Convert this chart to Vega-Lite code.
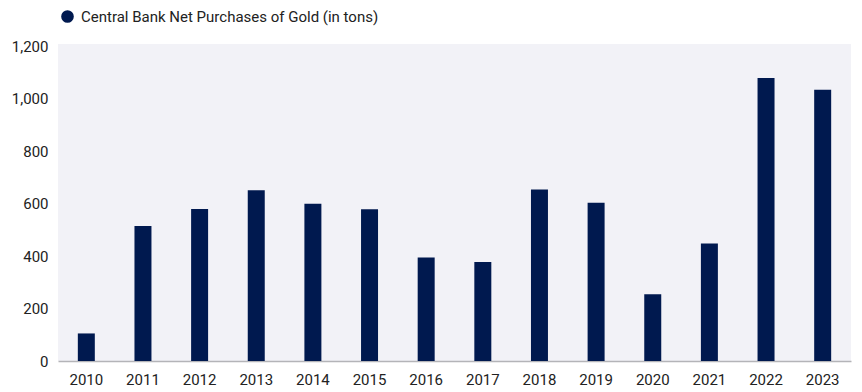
{
  "$schema": "https://vega.github.io/schema/vega-lite/v6.json",
  "width": 793,
  "height": 317,
  "autosize": {"type": "none"},
  "padding": {"left": 58, "top": 44, "right": 11, "bottom": 31},
  "background": "white",
  "config": {
    "view": {"fill": "#f2f2f7", "stroke": null},
    "font": "Roboto"
  },
  "data": {
    "values": [
      {"year": "2010", "tons": 105, "series": "Central Bank Net Purchases of Gold (in tons)"},
      {"year": "2011", "tons": 514, "series": "Central Bank Net Purchases of Gold (in tons)"},
      {"year": "2012", "tons": 579, "series": "Central Bank Net Purchases of Gold (in tons)"},
      {"year": "2013", "tons": 651, "series": "Central Bank Net Purchases of Gold (in tons)"},
      {"year": "2014", "tons": 599, "series": "Central Bank Net Purchases of Gold (in tons)"},
      {"year": "2015", "tons": 578, "series": "Central Bank Net Purchases of Gold (in tons)"},
      {"year": "2016", "tons": 394, "series": "Central Bank Net Purchases of Gold (in tons)"},
      {"year": "2017", "tons": 377, "series": "Central Bank Net Purchases of Gold (in tons)"},
      {"year": "2018", "tons": 654, "series": "Central Bank Net Purchases of Gold (in tons)"},
      {"year": "2019", "tons": 603, "series": "Central Bank Net Purchases of Gold (in tons)"},
      {"year": "2020", "tons": 254, "series": "Central Bank Net Purchases of Gold (in tons)"},
      {"year": "2021", "tons": 448, "series": "Central Bank Net Purchases of Gold (in tons)"},
      {"year": "2022", "tons": 1078, "series": "Central Bank Net Purchases of Gold (in tons)"},
      {"year": "2023", "tons": 1034, "series": "Central Bank Net Purchases of Gold (in tons)"}
    ]
  },
  "mark": {"type": "bar"},
  "encoding": {
    "x": {
      "field": "year",
      "type": "ordinal",
      "scale": {"paddingInner": 0.7, "paddingOuter": 0.35},
      "axis": {
        "title": null,
        "labelAngle": 0,
        "labelFontSize": 15,
        "labelColor": "#222222",
        "labelPadding": 11,
        "ticks": false,
        "domain": true,
        "domainColor": "#b4b4b8",
        "domainWidth": 1.5
      }
    },
    "y": {
      "field": "tons",
      "type": "quantitative",
      "scale": {"domain": [0, 1208], "nice": false},
      "axis": {
        "title": null,
        "values": [0, 200, 400, 600, 800, 1000, 1200],
        "format": ",d",
        "labelFontSize": 15,
        "labelColor": "#222222",
        "labelPadding": 10,
        "ticks": false,
        "domain": false,
        "grid": false
      }
    },
    "color": {
      "field": "series",
      "type": "nominal",
      "scale": {"range": ["#00194f"]},
      "legend": {
        "title": null,
        "orient": "none",
        "legendX": 2,
        "legendY": -35,
        "symbolType": "circle",
        "symbolSize": 160,
        "symbolStrokeWidth": 0,
        "labelFontSize": 15,
        "labelLimit": 0,
        "labelColor": "#222222",
        "labelOffset": 6
      }
    }
  }
}
